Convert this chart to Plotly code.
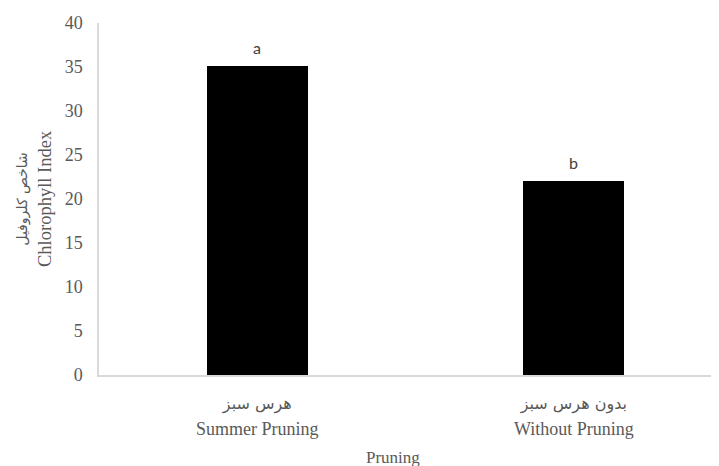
import plotly.graph_objects as go

categories_fa = ["هرس سبز", "بدون هرس سبز"]
categories_en = ["Summer Pruning", "Without Pruning"]
values = [35.1, 22.0]
letters = ["a", "b"]
y_ticks = [0, 5, 10, 15, 20, 25, 30, 35, 40]
y_title_fa = "شاخص کلروفیل"
y_title_en = "Chlorophyll Index"
x_title = "Pruning"

serif = "Liberation Serif, Times New Roman, serif"
txt_gray = "#595959"

tick_text = [f"<span style='font-family:DejaVu Sans;font-size:16px'>{fa}</span><br>"
             f"<span style='font-size:18px'>{en}</span>"
             for fa, en in zip(categories_fa, categories_en)]
x_pos = list(range(len(categories_en)))

PLOT_W = 719 - 91
PLOT_H = 352

fig = go.Figure()
fig.add_trace(go.Bar(
    x=x_pos, y=values, width=0.32,
    marker=dict(color="#000000", line=dict(width=0)),
    showlegend=False, hoverinfo="skip",
))

for xi, v, l in zip(x_pos, values, letters):
    fig.add_annotation(x=xi, y=v, text=l, showarrow=False, yshift=19,
                       font=dict(family="Lato, Carlito, sans-serif", size=16, color="#404040"))

fig.add_annotation(xref="paper", yref="paper", x=-65 / PLOT_W, y=0.5,
                   text=f"<span style='font-family:DejaVu Sans;font-size:14px'>{y_title_fa}</span><br>{y_title_en}",
                   textangle=-90, showarrow=False, xanchor="center", yanchor="middle",
                   font=dict(family=serif, size=18.5, color=txt_gray))

fig.add_annotation(xref="paper", yref="paper", x=(393 - 99) / PLOT_W, y=-82 / PLOT_H,
                   text=x_title, showarrow=False, xanchor="center", yanchor="middle",
                   font=dict(family=serif, size=17, color=txt_gray))

fig.update_layout(
    width=719, height=458,
    margin=dict(l=91, r=0, t=15, b=91, autoexpand=False),
    plot_bgcolor="white", paper_bgcolor="white",
    bargap=0,
    xaxis=dict(
        range=[-0.5, 1.484], tickmode="array", tickvals=x_pos, ticktext=tick_text,
        showline=True, linecolor="#d9d9d9", linewidth=1.5, showgrid=False, zeroline=False,
        ticks="", ticklabelstandoff=8,
        tickfont=dict(family=serif, size=20, color=txt_gray), fixedrange=True,
    ),
    yaxis=dict(
        range=[0, 40], tickmode="array", tickvals=y_ticks,
        showline=True, linecolor="#d9d9d9", linewidth=1.5, showgrid=False, zeroline=False,
        ticks="", ticklabelstandoff=11,
        tickfont=dict(family=serif, size=18, color=txt_gray), fixedrange=True,
    ),
)

fig.write_html("out.html")
